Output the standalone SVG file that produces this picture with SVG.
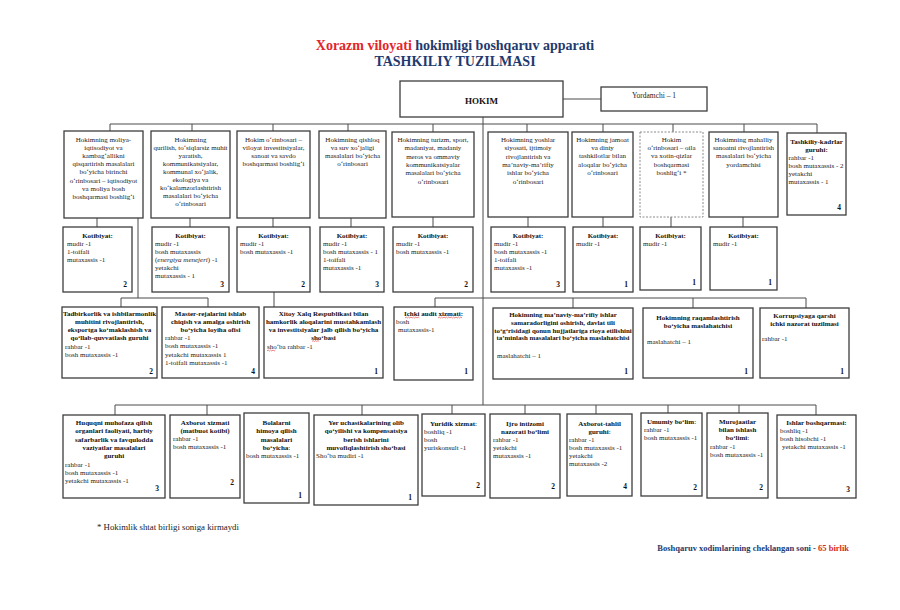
<svg xmlns="http://www.w3.org/2000/svg" width="900" height="610" viewBox="0 0 900 610">
<style>
text{font-family:"Liberation Serif","Times New Roman",serif;fill:#222}
.t{font-size:7px}
.c{text-anchor:middle}
.bo{font-weight:bold;fill:#111}
.n{font-size:7.5px;font-weight:bold;text-anchor:end;fill:#111}
.box{fill:#fff;stroke:#3d3d3d;stroke-width:1.3}
.dash{fill:#fff;stroke:#8a8a8a;stroke-width:1;stroke-dasharray:2 1.5}
.ln{fill:none;stroke:#4a4a4a;stroke-width:1}
.sq{fill:none;stroke:#e03030;stroke-width:0.6}
.ttl{font-size:14px;font-weight:bold;text-anchor:middle}
</style>
<rect width="900" height="610" fill="#fff"/>

<g id="title">
<text class="ttl" x="455" y="50"><tspan fill="#e3262b">Xorazm viloyati</tspan> <tspan fill="#1f3a6e">hokimligi boshqaruv apparati</tspan></text>
<text class="ttl" x="455" y="66" fill="#1f3a6e" style="fill:#1f3a6e">TASHKILIY TUZILMASI</text>
</g>

<g id="connectors" class="ln">
<path d="M563 99H601 M483 117V405 M110 124H817
M110 124V131 M192 124V131 M273 124V131 M348 124V131 M433 124V132 M527 124V132 M603 124V132 M673 124V132 M744 124V132 M817 124V133
M97 218V227 M190 218V227 M273 218V227 M351 218V227 M433 217V227 M528 217V227 M603 217V227 M671 217V227 M743 217V227
M138 218V298 M121 298H208 M121 298V307 M208 298V307
M274 292V307
M435 298H806 M435 298V307 M573 298V308 M693 298V308 M806 298V308
M115 405H816 M115 405V415 M207 405V415 M362 405V415 M452 405V414 M525 405V414 M596 405V414 M668 405V413 M739 405V413 M816 405V415"/>
</g>

<g id="hokim"><rect class="box" x="400" y="81" width="163" height="36"/>
<text class="bo c" x="481.5" y="104" style="font-size:9px">HOKIM</text></g>
<g id="yordamchi"><rect class="box" x="601" y="87" width="106" height="24"/>
<text class="c" x="654" y="98" style="font-size:7.5px">Yordamchi – 1</text></g>

<!-- Row 1 -->
<g id="b1"><rect class="box" x="64" y="131" width="79" height="87"/>
<text class="t c"><tspan x="103.5" y="142">Hokimning moliya-</tspan><tspan x="103.5" dy="8.1">iqtisodiyot va</tspan><tspan x="103.5" dy="8.1">kambag‘allikni</tspan><tspan x="103.5" dy="8.1">qisqartirish masalalari</tspan><tspan x="103.5" dy="8.1">bo‘yicha birinchi</tspan><tspan x="103.5" dy="8.1">o‘rinbosari – iqtisodiyot</tspan><tspan x="103.5" dy="8.1">va moliya bosh</tspan><tspan x="103.5" dy="8.1">boshqarmasi boshlig‘i</tspan></text></g>
<g id="b2"><rect class="box" x="151" y="131" width="79" height="87"/>
<text class="t c"><tspan x="190.5" y="142">Hokimning</tspan><tspan x="190.5" dy="8">qurilish, to‘siqlarsiz muhit</tspan><tspan x="190.5" dy="8">yaratish,</tspan><tspan x="190.5" dy="8">kommunikatsiyalar,</tspan><tspan x="190.5" dy="8">kommunal xo‘jalik,</tspan><tspan x="190.5" dy="8">ekologiya va</tspan><tspan x="190.5" dy="8">ko‘kalamzorlashtirish</tspan><tspan x="190.5" dy="8">masalalari bo‘yicha</tspan><tspan x="190.5" dy="8">o‘rinbosari</tspan></text></g>
<g id="b3"><rect class="box" x="237" y="131" width="73" height="87"/>
<text class="t c"><tspan x="273.5" y="142">Hokim o‘rinbosari –</tspan><tspan x="273.5" dy="8.1">viloyat investitsiyalar,</tspan><tspan x="273.5" dy="8.1">sanoat va savdo</tspan><tspan x="273.5" dy="8.1">boshqarmasi boshlig‘i</tspan></text></g>
<g id="b4"><rect class="box" x="319" y="131" width="67" height="87"/>
<text class="t c"><tspan x="352.5" y="142">Hokimning qishloq</tspan><tspan x="352.5" dy="8.1">va suv xo‘jaligi</tspan><tspan x="352.5" dy="8.1">masalalari bo‘yicha</tspan><tspan x="352.5" dy="8.1">o‘rinbosari</tspan></text></g>
<g id="b5"><rect class="box" x="392" y="132" width="82" height="85"/>
<text class="t c"><tspan x="433" y="142">Hokimning turizm, sport,</tspan><tspan x="433" dy="8.3">madaniyat, madaniy</tspan><tspan x="433" dy="8.3">meros va ommaviy</tspan><tspan x="433" dy="8.3">kommunikatsiyalar</tspan><tspan x="433" dy="8.3">masalalari bo‘yicha</tspan><tspan x="433" dy="8.3">o‘rinbosari</tspan></text></g>
<g id="b6"><rect class="box" x="488" y="132" width="80" height="85"/>
<text class="t c"><tspan x="528" y="142">Hokimning yoshlar</tspan><tspan x="528" dy="8.3">siyosati, ijtimoiy</tspan><tspan x="528" dy="8.3">rivojlantirish va</tspan><tspan x="528" dy="8.3">ma’naviy-ma’rifiy</tspan><tspan x="528" dy="8.3">ishlar bo‘yicha</tspan><tspan x="528" dy="8.3">o‘rinbosari</tspan></text></g>
<g id="b7"><rect class="box" x="572" y="132" width="61" height="85"/>
<text class="t c"><tspan x="602.5" y="142">Hokimning jamoat</tspan><tspan x="602.5" dy="8.2">va diniy</tspan><tspan x="602.5" dy="8.2">tashkilotlar bilan</tspan><tspan x="602.5" dy="8.2">aloqalar bo‘yicha</tspan><tspan x="602.5" dy="8.2">o‘rinbosari</tspan></text></g>
<g id="b8"><rect class="dash" x="640" y="132" width="63" height="85"/>
<text class="t c"><tspan x="671.5" y="142">Hokim</tspan><tspan x="671.5" dy="8.2">o‘rinbosari – oila</tspan><tspan x="671.5" dy="8.2">va xotin-qizlar</tspan><tspan x="671.5" dy="8.2">boshqarmasi</tspan><tspan x="671.5" dy="8.2">boshlig‘i *</tspan></text></g>
<g id="b9"><rect class="box" x="709" y="132" width="69" height="85"/>
<text class="t c"><tspan x="743.5" y="142">Hokimning mahalliy</tspan><tspan x="743.5" dy="8.2">sanoatni rivojlantirish</tspan><tspan x="743.5" dy="8.2">masalalari bo‘yicha</tspan><tspan x="743.5" dy="8.2">yordamchisi</tspan></text></g>
<g id="b10"><rect class="box" x="787" y="133" width="59" height="82"/>
<text class="t bo c"><tspan x="816.5" y="144">Tashkiliy-kadrlar</tspan><tspan x="816.5" dy="8">guruhi:</tspan></text>
<text class="t"><tspan x="788.5" y="160">rahbar -1</tspan><tspan x="788.5" dy="8">bosh mutaxassis - 2</tspan><tspan x="788.5" dy="8">yetakchi</tspan><tspan x="788.5" dy="8">mutaxassis - 1</tspan></text>
<text class="n" x="841" y="210">4</text></g>

<!-- Row 2: Kotibiyat -->
<g id="k1"><rect class="box" x="63" y="227" width="69" height="65"/>
<text class="t bo c" x="97.5" y="237.5">Kotibiyat:</text>
<text class="t"><tspan x="67" y="245.5">mudir -1</tspan><tspan x="67" dy="8.2">1-toifali</tspan><tspan x="67" dy="8.2">mutaxassis -1</tspan></text>
<text class="n" x="127" y="287">2</text></g>
<g id="k2"><rect class="box" x="152" y="227" width="77" height="65"/>
<text class="t bo c" x="190.5" y="237.5">Kotibiyat:</text>
<text class="t"><tspan x="155" y="245.5">mudir -1</tspan><tspan x="155" dy="8.2">bosh mutaxassis</tspan><tspan x="155" dy="8.2">(<tspan font-style="italic">energiya menejeri</tspan>) -1</tspan><tspan x="155" dy="8.2">yetakchi</tspan><tspan x="155" dy="8.2">mutaxassis - 1</tspan></text>
<text class="n" x="224" y="287">3</text></g>
<g id="k3"><rect class="box" x="237" y="227" width="73" height="65"/>
<text class="t bo c" x="273.5" y="237.5">Kotibiyat:</text>
<text class="t"><tspan x="240" y="245.5">mudir -1</tspan><tspan x="240" dy="8.2">bosh mutaxassis -1</tspan></text>
<text class="n" x="305" y="287">2</text></g>
<g id="k4"><rect class="box" x="320" y="227" width="64" height="65"/>
<text class="t bo c" x="352" y="237.5">Kotibiyat:</text>
<text class="t"><tspan x="323" y="245.5">mudir -1</tspan><tspan x="323" dy="8.2">bosh mutaxassis - 1</tspan><tspan x="323" dy="8.2">1-toifali</tspan><tspan x="323" dy="8.2">mutaxassis -1</tspan></text>
<text class="n" x="379" y="287">3</text></g>
<g id="k5"><rect class="box" x="393" y="227" width="80" height="65"/>
<text class="t bo c" x="433" y="237.5">Kotibiyat:</text>
<text class="t"><tspan x="396" y="245.5">mudir -1</tspan><tspan x="396" dy="8.2">bosh mutaxassis -1</tspan></text>
<text class="n" x="468" y="287">2</text></g>
<g id="k6"><rect class="box" x="491" y="227" width="74" height="65"/>
<text class="t bo c" x="528" y="237.5">Kotibiyat:</text>
<text class="t"><tspan x="494" y="245.5">mudir -1</tspan><tspan x="494" dy="8.2">bosh mutaxassis -1</tspan><tspan x="494" dy="8.2">1-toifali</tspan><tspan x="494" dy="8.2">mutaxassis -1</tspan></text>
<text class="n" x="560" y="287">3</text></g>
<g id="k7"><rect class="box" x="573" y="227" width="60" height="65"/>
<text class="t bo c" x="603" y="237.5">Kotibiyat:</text>
<text class="t" x="576" y="245.5">mudir -1</text>
<text class="n" x="628" y="287">1</text></g>
<g id="k8"><rect class="box" x="640" y="227" width="61" height="63"/>
<text class="t bo c" x="670.5" y="237.5">Kotibiyat:</text>
<text class="t" x="643" y="245.5">mudir -1</text>
<text class="n" x="696" y="285">1</text></g>
<g id="k9"><rect class="box" x="710" y="227" width="67" height="63"/>
<text class="t bo c" x="743.5" y="237.5">Kotibiyat:</text>
<text class="t" x="713" y="245.5">mudir -1</text>
<text class="n" x="772" y="285">1</text></g>

<!-- Row 3 -->
<g id="r3-1"><rect class="box" x="62" y="307" width="95" height="71"/>
<text class="t bo c"><tspan x="109.5" y="316">Tadbirkorlik va ishbilarmonlik</tspan><tspan x="109.5" dy="7.9">muhitini rivojlantirish,</tspan><tspan x="109.5" dy="7.9">eksportga ko‘maklashish va</tspan><tspan x="109.5" dy="7.9">qo‘llab-quvvatlash guruhi</tspan></text>
<text class="t"><tspan x="65" y="349">rahbar -1</tspan><tspan x="65" dy="8">bosh mutaxassis -1</tspan></text>
<text class="n" x="153" y="374">2</text></g>
<g id="r3-2"><rect class="box" x="162" y="307" width="97" height="71"/>
<text class="t bo c"><tspan x="210.5" y="316">Master-rejalarini ishlab</tspan><tspan x="210.5" dy="7.9">chiqish va amalga oshirish</tspan><tspan x="210.5" dy="7.9">bo‘yicha loyiha ofisi</tspan></text>
<text class="t"><tspan x="165" y="340">rahbar -1</tspan><tspan x="165" dy="8.3">bosh mutaxassis -1</tspan><tspan x="165" dy="8.3">yetakchi mutaxassis 1</tspan><tspan x="165" dy="8.3">1-toifali mutaxassis -1</tspan></text>
<text class="n" x="255" y="374">4</text></g>
<g id="r3-3"><rect class="box" x="264" y="307" width="119" height="71"/>
<text class="t bo c"><tspan x="323.5" y="316">Xitoy Xalq Respublikasi bilan</tspan><tspan x="323.5" dy="7.9">hamkorlik aloqalarini mustahkamlash</tspan><tspan x="323.5" dy="7.9">va investitsiyalar jalb qilish bo‘yicha</tspan><tspan x="323.5" dy="7.9">sho‘basi</tspan></text>
<text class="t" x="267" y="349">sho‘ba rahbar -1</text>
<path class="sq" d="M312 341.5l1.2 -1 1.2 1 1.2 -1 1.2 1 1.2 -1 1.2 1 M267 351l1.2 -1 1.2 1 1.2 -1 1.2 1 1.2 -1 1.2 1 1.2 -1"/>
<text class="n" x="378" y="374">1</text></g>
<g id="r3-4"><rect class="box" x="394" y="307" width="79" height="73"/>
<text class="t bo c" x="433.5" y="316">Ichki audit xizmati:</text>
<text class="t"><tspan x="396" y="324">bosh</tspan><tspan x="398" dy="7.8">mutaxassis-1</tspan></text>
<path class="sq" d="M405 318l1.2 -1 1.2 1 1.2 -1 1.2 1 1.2 -1 1.2 1 1.2 -1 1.2 1 1.2 -1 1.2 1 1.2 -1 1.2 1 M438 318l1.2 -1 1.2 1 1.2 -1 1.2 1 1.2 -1 1.2 1 1.2 -1 1.2 1 1.2 -1 1.2 1 1.2 -1 1.2 1 1.2 -1 1.2 1 1.2 -1 1.2 1 1.2 -1 1.2 1 1.2 -1 1.2 1"/>
<text class="n" x="468" y="374">1</text></g>
<g id="r3-5"><rect class="box" x="493" y="308" width="140" height="71"/>
<text class="bo c" style="font-size:6.9px"><tspan x="563" y="317">Hokimning ma’naviy-ma’rifiy ishlar</tspan><tspan x="563" dy="7.8">samaradorligini oshirish, davlat tili</tspan><tspan x="563" dy="7.8">to‘g‘risidagi qonun hujjatlariga rioya etilishini</tspan><tspan x="563" dy="7.8">ta’minlash masalalari bo‘yicha maslahatchisi</tspan></text>
<text class="t" x="497" y="358">maslahatchi – 1</text>
<text class="n" x="628" y="374">1</text></g>
<g id="r3-6"><rect class="box" x="643" y="308" width="110" height="70"/>
<text class="t bo c"><tspan x="698" y="320">Hokimning raqamlashtirish</tspan><tspan x="698" dy="8">bo‘yicha maslahatchisi</tspan></text>
<text class="t" x="647" y="344">maslahatchi – 1</text>
<text class="n" x="748" y="374">1</text></g>
<g id="r3-7"><rect class="box" x="760" y="308" width="89" height="70"/>
<text class="t bo c"><tspan x="804.5" y="318">Korrupsiyaga qarshi</tspan><tspan x="804.5" dy="8">ichki nazorat tuzilmasi</tspan></text>
<text class="t" x="762" y="341">rahbar -1</text>
<text class="n" x="844" y="374">1</text></g>

<!-- Row 4 -->
<g id="r4-1"><rect class="box" x="63" y="415" width="102" height="83"/>
<text class="t bo c"><tspan x="114" y="425">Huquqni muhofaza qilish</tspan><tspan x="114" dy="8.3">organlari faoliyati, harbiy</tspan><tspan x="114" dy="8.3">safarbarlik va favqulodda</tspan><tspan x="114" dy="8.3">vaziyatlar masalalari</tspan><tspan x="114" dy="8.3">guruhi</tspan></text>
<text class="t"><tspan x="65" y="467">rahbar -1</tspan><tspan x="65" dy="8">bosh mutaxassis -1</tspan><tspan x="65" dy="8">yetakchi mutaxassis -1</tspan></text>
<text class="n" x="159" y="490.5">3</text></g>
<g id="r4-2"><rect class="box" x="170" y="415" width="70" height="83"/>
<text class="t bo c"><tspan x="205" y="425">Axborot xizmati</tspan><tspan x="205" dy="8.3">(matbuot kotibi)</tspan></text>
<text class="t"><tspan x="173" y="441">rahbar -1</tspan><tspan x="173" dy="8.2">bosh mutaxassis -1</tspan></text>
<text class="n" x="234" y="485">2</text></g>
<g id="r4-3"><rect class="box" x="244" y="413" width="65" height="90"/>
<text class="t bo c"><tspan x="276.5" y="425">Bolalarni</tspan><tspan x="276.5" dy="8.3">himoya qilish</tspan><tspan x="276.5" dy="8.3">masalalari</tspan><tspan x="276.5" dy="8.3">bo‘yicha<tspan font-weight="normal">:</tspan></tspan></text>
<text class="t" x="246" y="458">bosh mutaxassis -1</text>
<text class="n" x="302" y="498">1</text></g>
<g id="r4-4"><rect class="box" x="314" y="415" width="104" height="90"/>
<text class="t bo c"><tspan x="366" y="425">Yer uchastkalarining olib</tspan><tspan x="366" dy="8.3">qo‘yilishi va kompensatsiya</tspan><tspan x="366" dy="8.3">berish ishlarini</tspan><tspan x="366" dy="8.3">muvofiqlashtirish sho‘basi</tspan></text>
<text class="t" x="316" y="458">Sho‘ba mudiri -1</text>
<text class="n" x="412" y="500">1</text></g>
<g id="r4-5"><rect class="box" x="422" y="414" width="63" height="82"/>
<text class="t bo c" x="453.5" y="426">Yuridik xizmat<tspan font-weight="normal">:</tspan></text>
<text class="t"><tspan x="424" y="434">boshliq -1</tspan><tspan x="424" dy="8">bosh</tspan><tspan x="424" dy="8">yuriskonsult -1</tspan></text>
<text class="n" x="480" y="488">2</text></g>
<g id="r4-6"><rect class="box" x="490" y="414" width="70" height="84"/>
<text class="t bo c"><tspan x="525" y="426">Ijro intizomi</tspan><tspan x="525" dy="8">nazorati bo‘limi</tspan></text>
<text class="t"><tspan x="493" y="441.5">rahbar -1</tspan><tspan x="493" dy="8.2">yetakchi</tspan><tspan x="493" dy="8.2">mutaxassis -1</tspan></text>
<text class="n" x="555" y="489">2</text></g>
<g id="r4-7"><rect class="box" x="567" y="414" width="65" height="82"/>
<text class="t bo c"><tspan x="599.5" y="426">Axborot-tahlil</tspan><tspan x="599.5" dy="8">guruhi<tspan font-weight="normal">:</tspan></tspan></text>
<text class="t"><tspan x="569" y="441.5">rahbar -1</tspan><tspan x="569" dy="8">bosh mutaxassis -1</tspan><tspan x="569" dy="8">yetakchi</tspan><tspan x="569" dy="8">mutaxassis -2</tspan></text>
<text class="n" x="627" y="489">4</text></g>
<g id="r4-8"><rect class="box" x="641" y="413" width="61" height="83"/>
<text class="t bo c" x="671.5" y="423.5">Umumiy bo‘lim<tspan font-weight="normal">:</tspan></text>
<text class="t"><tspan x="644" y="432">rahbar -1</tspan><tspan x="644" dy="8.2">bosh mutaxassis -1</tspan></text>
<text class="n" x="697" y="490">2</text></g>
<g id="r4-9"><rect class="box" x="707" y="413" width="61" height="85"/>
<text class="t bo c"><tspan x="737.5" y="423.5">Murojaatlar</tspan><tspan x="737.5" dy="8.3">bilan ishlash</tspan><tspan x="737.5" dy="8.3">bo‘limi<tspan font-weight="normal">:</tspan></tspan></text>
<text class="t"><tspan x="710" y="449">rahbar -1</tspan><tspan x="710" dy="8.2">bosh mutaxassis -1</tspan></text>
<text class="n" x="763" y="490">2</text></g>
<g id="r4-10"><rect class="box" x="777" y="415" width="79" height="83"/>
<text class="t bo c" x="816.5" y="425">Ishlar boshqarmasi:</text>
<text class="t"><tspan x="780" y="433">boshliq -1</tspan><tspan x="780" dy="8.2">bosh hisobchi -1</tspan><tspan x="782" dy="8.2">yetakchi mutaxassis -1</tspan></text>
<text class="n" x="850" y="492">3</text></g>

<g id="notes">
<text x="97" y="530" style="font-size:8.8px">* Hokimlik shtat birligi soniga kirmaydi</text>
<text x="849" y="551" style="font-size:8.5px;font-weight:bold;text-anchor:end"><tspan fill="#1f3a6e">Boshqaruv xodimlarining cheklangan soni - </tspan><tspan fill="#d42a2a">65 birlik</tspan></text>
</g>
</svg>
